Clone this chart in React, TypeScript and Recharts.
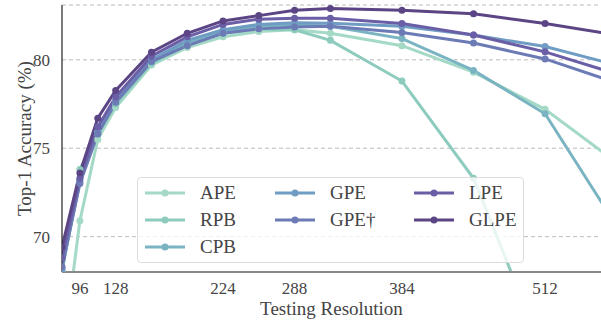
import { LineChart, Line, XAxis, YAxis, CartesianGrid } from 'recharts';

const resolutions = [80, 96, 112, 128, 160, 192, 224, 256, 288, 320, 384, 448, 512, 576];

const ape = [63.0, 70.9, 75.5, 77.3, 79.7, 80.7, 81.3, 81.6, 81.7, 81.5, 80.8, 79.3, 77.2, 74.2];
const rpb = [68.0, 73.8, 75.8, 77.5, 79.8, 80.9, 81.5, 81.75, 81.7, 81.1, 78.8, 73.3, 63.2, null];
const cpb = [68.1, 73.2, 75.9, 77.6, 79.9, 81.0, 81.6, 81.9, 82.0, 81.9, 81.2, 79.4, 76.95, 70.6];
const gpe = [68.2, 73.1, 75.9, 77.7, 80.0, 81.1, 81.7, 82.0, 82.1, 82.07, 81.9, 81.4, 80.75, 79.7];
const gpeDagger = [68.3, 73.0, 75.8, 77.6, 79.9, 80.8, 81.5, 81.75, 81.85, 81.9, 81.55, 80.95, 80.05, 78.7];
const lpe = [68.8, 73.3, 76.2, 77.9, 80.2, 81.3, 82.0, 82.3, 82.35, 82.35, 82.05, 81.4, 80.45, 79.2];
const glpe = [69.4, 73.6, 76.7, 78.27, 80.43, 81.5, 82.2, 82.5, 82.8, 82.9, 82.8, 82.6, 82.05, 81.4];

const xTicks = [96, 128, 224, 288, 384, 512];
const yTicks = [70, 75, 80];

const series = [
  { key: 'ape', name: 'APE', color: '#a3d9c5', values: ape },
  { key: 'rpb', name: 'RPB', color: '#8ccbbd', values: rpb },
  { key: 'cpb', name: 'CPB', color: '#7ab4c2', values: cpb },
  { key: 'gpe', name: 'GPE', color: '#6f9cc2', values: gpe },
  { key: 'gpeDagger', name: 'GPE†', color: '#6c7bb6', values: gpeDagger },
  { key: 'lpe', name: 'LPE', color: '#6a5fa6', values: lpe },
  { key: 'glpe', name: 'GLPE', color: '#5c4585', values: glpe },
];

const chartData = resolutions.map((res, i) => {
  const row: Record<string, number | null> = { res };
  series.forEach((s) => {
    row[s.key] = s.values[i];
  });
  return row;
});

const font = '"Liberation Serif", "DejaVu Serif", serif';
const textColor = '#444';

// legend: 3 columns, filled top to bottom like matplotlib
const columns = [[0, 1, 2], [3, 4], [5, 6]];
const columnLeft = [7, 137, 276];

function LegendBox() {
  return (
    <div
      style={{
        position: 'absolute',
        left: 137,
        top: 177,
        width: 387,
        height: 86,
        background: 'rgba(255,255,255,0.8)',
        border: '1px solid #dcdcdc',
        borderRadius: 4,
        boxSizing: 'border-box',
        fontFamily: font,
        fontSize: 19,
        color: textColor,
      }}
    >
      {columns.map((col, ci) =>
        col.map((si, ri) => {
          const s = series[si];
          return (
            <div
              key={s.key}
              style={{
                position: 'absolute',
                left: columnLeft[ci],
                top: 1 + ri * 27,
                height: 27,
                display: 'flex',
                alignItems: 'center',
                whiteSpace: 'nowrap',
              }}
            >
              <svg width={40} height={10} style={{ marginRight: 15 }}>
                <line x1={0} y1={5} x2={40} y2={5} stroke={s.color} strokeWidth={3} />
                <circle cx={20} cy={5} r={3.5} fill={s.color} />
              </svg>
              <span>{s.name}</span>
            </div>
          );
        })
      )}
    </div>
  );
}

export default function App() {
  return (
    <div style={{ position: 'fixed', left: 0, top: 0, width: 601, height: 320, background: '#fff' }}>
      <LineChart
        width={601}
        height={320}
        data={chartData}
        margin={{ top: 5, right: 0, bottom: 0, left: 0 }}
      >
        <CartesianGrid
          vertical={false}
          stroke="#aaaaaa"
          strokeDasharray="4 3"
          strokeWidth={0.8}
        />
        <XAxis
          dataKey="res"
          type="number"
          domain={[80, 562]}
          ticks={xTicks}
          allowDataOverflow
          height={48}
          tickLine={false}
          axisLine={{ stroke: '#888888', strokeWidth: 2 }}
          tick={{ fontSize: 17, fill: textColor, fontFamily: font }}
          tickMargin={4}
          label={{
            value: 'Testing Resolution',
            position: 'insideBottom',
            offset: 5,
            style: { fontSize: 19, fill: textColor, fontFamily: font },
          }}
        />
        <YAxis
          type="number"
          domain={[68, 83.1]}
          ticks={yTicks}
          allowDataOverflow
          width={62}
          tickLine={false}
          axisLine={{ stroke: '#222222', strokeWidth: 1.2 }}
          tick={{ fontSize: 17, fill: textColor, fontFamily: font }}
          tickMargin={6}
          label={{
            value: 'Top-1 Accuracy (%)',
            angle: -90,
            position: 'insideLeft',
            offset: 24,
            style: { fontSize: 19, fill: textColor, fontFamily: font, textAnchor: 'middle' },
          }}
        />
        {series.map((s) => (
          <Line
            key={s.key}
            dataKey={s.key}
            name={s.name}
            type="linear"
            stroke={s.color}
            strokeWidth={3}
            dot={{ r: 3.5, fill: s.color, stroke: s.color, strokeWidth: 0 }}
            activeDot={false}
            connectNulls={false}
            isAnimationActive={false}
          />
        ))}
      </LineChart>
      <LegendBox />
    </div>
  );
}
